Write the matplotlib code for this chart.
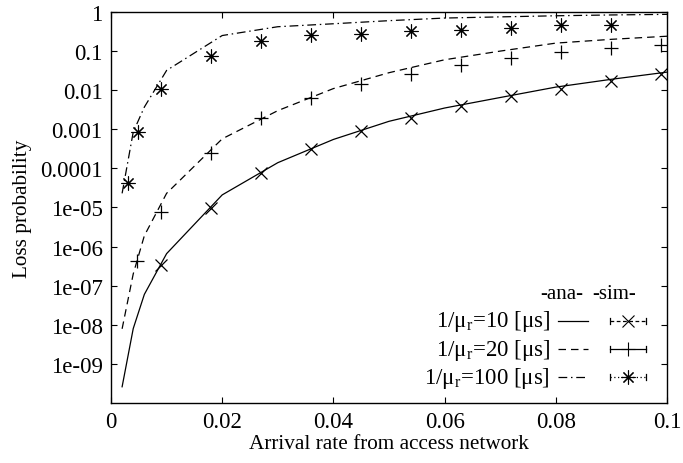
import numpy as np
import matplotlib.pyplot as plt
from matplotlib.lines import Line2D

plt.rcParams['font.family'] = ['Liberation Serif', 'DejaVu Serif']
plt.rcParams['mathtext.fontset'] = 'custom'
plt.rcParams['mathtext.rm'] = 'Liberation Serif'

# analytical curves
x_ana = [0.002, 0.004, 0.006, 0.01, 0.02, 0.03, 0.04, 0.05, 0.06, 0.07, 0.08, 0.09, 0.1]
ana_10 = [2.6e-10, 8e-9, 6e-8, 6.6e-7, 2.1e-5, 1.4e-4, 5.5e-4, 1.6e-3, 3.5e-3, 6.5e-3, 0.012, 0.019, 0.029]
ana_20 = [7.9e-9, 2e-7, 1.9e-6, 2.3e-5, 5.7e-4, 3e-3, 0.011, 0.028, 0.06, 0.10, 0.16, 0.2, 0.24]
ana_100 = [2.3e-5, 8.5e-4, 3.7e-3, 0.032, 0.25, 0.42, 0.5, 0.6, 0.7, 0.75, 0.8, 0.84, 0.87]

# simulation points
x_sim10 = [0.009, 0.018, 0.027, 0.036, 0.045, 0.054, 0.063, 0.072, 0.081, 0.09, 0.099]
sim_10 = [3.3e-7, 9.7e-6, 7.7e-5, 3.2e-4, 9.1e-4, 2.0e-3, 4e-3, 6.9e-3, 0.011, 0.017, 0.026]
x_sim20 = [0.0047, 0.009, 0.018, 0.027, 0.036, 0.045, 0.054, 0.063, 0.072, 0.081, 0.09, 0.099]
sim_20 = [4.4e-7, 7.6e-6, 2.5e-4, 1.9e-3, 6.3e-3, 0.014, 0.026, 0.043, 0.066, 0.095, 0.12, 0.14]
x_sim100 = [0.003, 0.0048, 0.009, 0.018, 0.027, 0.036, 0.045, 0.054, 0.063, 0.072, 0.081, 0.09]
sim_100 = [4.3e-5, 8.5e-4, 0.011, 0.075, 0.18, 0.26, 0.28, 0.32, 0.35, 0.40, 0.47, 0.47]

xticks = [0, 0.02, 0.04, 0.06, 0.08, 0.1]
xtick_labels = ['0', '0.02', '0.04', '0.06', '0.08', '0.1']
yticks = [1, 0.1, 0.01, 0.001, 0.0001, 1e-5, 1e-6, 1e-7, 1e-8, 1e-9]
ytick_labels = ['1', '0.1', '0.01', '0.001', '0.0001', '1e-05', '1e-06', '1e-07', '1e-08', '1e-09']

labels = [r'1/μ$_{\rm r}$=10 [μs]', r'1/μ$_{\rm r}$=20 [μs]', r'1/μ$_{\rm r}$=100 [μs]']

fs = 16.5
fig = plt.figure(figsize=(6.83, 4.64), dpi=100)
ax = fig.add_axes([0.1625, 0.1293, 0.8141, 0.8427])

lw = 0.9
dash = (0, (6, 4))
dashdot = (0, (7, 3, 1.2, 3))
ax.plot(x_ana, ana_10, color='black', lw=lw, ls='-')
ax.plot(x_ana, ana_20, color='black', lw=lw, ls=dash)
ax.plot(x_ana, ana_100, color='black', lw=lw, ls=dashdot)

ax.plot(x_sim10, sim_10, ls='none', marker='x', ms=8, mew=0.9, color='black')
ax.plot(x_sim20, sim_20, ls='none', marker='+', ms=10, mew=0.9, color='black')
ax.plot(x_sim100, sim_100, ls='none', marker=(8, 2, 0), ms=10, mew=0.8, color='black')

ax.set_yscale('log')
ax.set_xlim(0, 0.1)
ax.set_ylim(1e-10, 1)
ax.set_xticks(xticks)
ax.set_xticklabels(xtick_labels)
ax.set_yticks(yticks)
ax.set_yticklabels(ytick_labels)
ax.minorticks_off()
ax.tick_params(direction='in', length=4, width=0.8, top=True, right=True,
               labelsize=fs, pad=6, colors='black')
for s in ax.spines.values():
    s.set_linewidth(1.0)

ax.set_xlabel('Arrival rate from access network', fontsize=15.3, labelpad=1)
ax.set_ylabel('Loss probability', fontsize=15.3, labelpad=6)

# gnuplot-style key
tr = ax.transAxes
ax.text(0.81, 0.279, '-ana-', transform=tr, fontsize=15, ha='center', va='center')
ax.text(0.905, 0.279, '-sim-', transform=tr, fontsize=15, ha='center', va='center')
rows = [0.210, 0.138, 0.066]
ana_styles = ['-', dash, dashdot]
sim_styles = [(0, (3, 2)), '-', (0, (1, 2))]
sim_markers = ['x', '+', (8, 2, 0)]
sim_ms = [8, 10, 10]
for y, lab, als, sls, mk, ms in zip(rows, labels, ana_styles, sim_styles, sim_markers, sim_ms):
    ax.text(0.79, y, lab, transform=tr, fontsize=fs, ha='right', va='center')
    ax.add_line(Line2D([0.804, 0.858], [y, y], transform=tr, color='black', lw=lw, ls=als))
    ax.add_line(Line2D([0.897, 0.962], [y, y], transform=tr, color='black', lw=lw, ls=sls))
    ax.add_line(Line2D([0.897, 0.897], [y - 0.008, y + 0.008], transform=tr, color='black', lw=lw))
    ax.add_line(Line2D([0.962, 0.962], [y - 0.008, y + 0.008], transform=tr, color='black', lw=lw))
    ax.add_line(Line2D([0.93], [y], transform=tr, color='black', marker=mk, ms=ms, mew=0.8, ls='none'))

fig.savefig('out.png', dpi=100)
